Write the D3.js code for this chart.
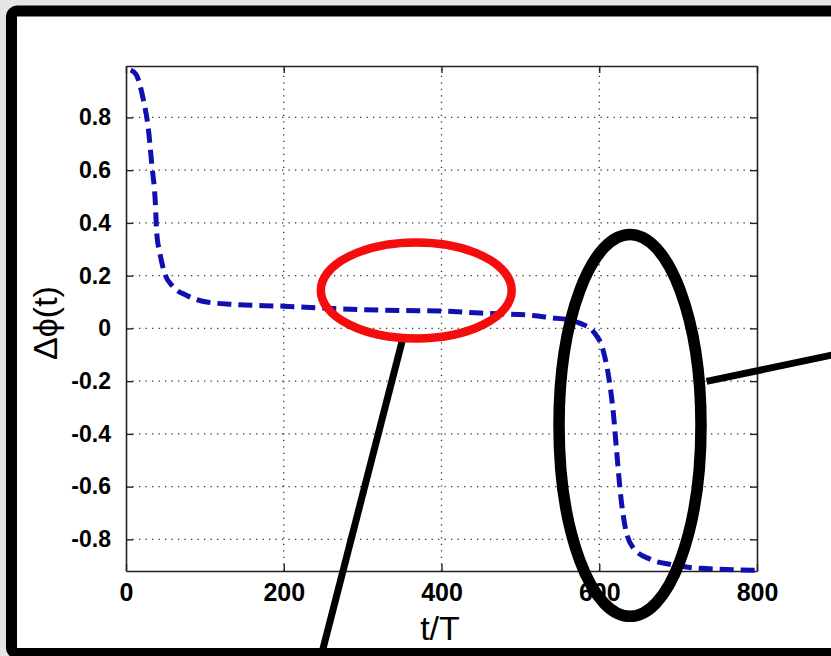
<!DOCTYPE html>
<html>
<head>
<meta charset="utf-8">
<script src="https://cdn.jsdelivr.net/npm/d3@7"></script>
<style>
  html, body { margin: 0; padding: 0; background: #e5e5e5; }
  svg { display: block; }
</style>
</head>
<body>
<svg id="chart" width="831" height="656"></svg>
<script>
// values
const tVals   = [6, 13, 22, 28, 33, 37, 39, 43, 49, 60, 77, 102, 136, 200, 263, 347, 398, 449, 516, 540, 560, 576, 593, 605, 612, 618, 622, 627, 633, 643, 665, 690, 728, 800]
const phiVals = [0.98, 0.962, 0.867, 0.765, 0.613, 0.487, 0.361, 0.285, 0.209, 0.157, 0.125, 0.1, 0.091, 0.084, 0.075, 0.068, 0.066, 0.058, 0.049, 0.04, 0.033, 0.019, -0.014, -0.084, -0.185, -0.325, -0.464, -0.629, -0.755, -0.832, -0.876, -0.895, -0.91, -0.917]
const xTicks = [0, 200, 400, 600, 800]
const yTicks = [-0.8, -0.6, -0.4, -0.2, 0, 0.2, 0.4, 0.6, 0.8]
const yLabels = ["-0.8", "-0.6", "-0.4", "-0.2", "0", "0.2", "0.4", "0.6", "0.8"]

// annotation marks, in data units
const ellipses = [
  {cx: 368, cy: 0.144, rx: 121, ry: 0.182, color: "#f50d0d", w: 8.5},
  {cx: 639, cy: -0.368, rx: 90, ry: 0.724, color: "#000", w: 11.5}
]
const pointers = [
  {t1: 351, p1: -0.038, t2: 245, p2: -1.27},
  {t1: 736, p1: -0.201, t2: 905, p2: -0.095}
]

const svg = d3.select("#chart")

// white card with thick black frame
svg.append("rect")
  .attr("x", 11.5).attr("y", 11)
  .attr("width", 900).attr("height", 642.5)
  .attr("rx", 6)
  .attr("fill", "#fff")
  .attr("stroke", "#000")
  .attr("stroke-width", 11)

const x = d3.scaleLinear().domain([0, 800]).range([126, 757])
const y = d3.scaleLinear().domain([-0.92, 0.995]).range([571, 66])

const font = "'Liberation Sans', Arial, Helvetica, sans-serif"

// dotted grid
const grid = svg.append("g")
grid.selectAll(".gx")
  .data(xTicks.filter(d => d > 0 && d < 800))
  .enter().append("line")
  .attr("x1", d => x(d)).attr("x2", d => x(d))
  .attr("y1", y.range()[0]).attr("y2", y.range()[1])
grid.selectAll(".gy")
  .data(yTicks)
  .enter().append("line")
  .attr("x1", x.range()[0]).attr("x2", x.range()[1])
  .attr("y1", d => y(d)).attr("y2", d => y(d))
grid.selectAll("line")
  .attr("stroke", "#333")
  .attr("stroke-width", 1.3)
  .attr("stroke-dasharray", "1.3,5.2")

// axes box with inward ticks on all sides
const axB = svg.append("g").attr("transform", `translate(0,${y.range()[0]})`)
  .call(d3.axisBottom(x).tickValues(xTicks).tickSizeInner(-7).tickSizeOuter(0).tickPadding(12).tickFormat(d3.format("d")))
const axT = svg.append("g").attr("transform", `translate(0,${y.range()[1]})`)
  .call(d3.axisTop(x).tickValues(xTicks).tickSizeInner(-7).tickSizeOuter(0).tickFormat(""))
const axL = svg.append("g").attr("transform", `translate(${x.range()[0]},0)`)
  .call(d3.axisLeft(y).tickValues(yTicks).tickSizeInner(-7).tickSizeOuter(0).tickPadding(15)
    .tickFormat((d, i) => yLabels[i]))
const axR = svg.append("g").attr("transform", `translate(${x.range()[1]},0)`)
  .call(d3.axisRight(y).tickValues(yTicks).tickSizeInner(-7).tickSizeOuter(0).tickFormat(""))

;[axB, axT, axL, axR].forEach(a => {
  a.select(".domain").attr("stroke", "#222").attr("stroke-width", 1.6)
  a.selectAll(".tick line").attr("stroke", "#222").attr("stroke-width", 1.4)
})
axB.selectAll("text")
  .attr("font-family", font).attr("font-weight", "bold").attr("font-size", 25).attr("fill", "#000")
axL.selectAll("text")
  .attr("font-family", font).attr("font-weight", "bold").attr("font-size", 23).attr("fill", "#000")

// axis titles
svg.append("text")
  .attr("x", 440).attr("y", 640)
  .attr("text-anchor", "middle")
  .attr("font-family", font).attr("font-size", 34)
  .text("t/T")
svg.append("text")
  .attr("transform", "translate(57,323) rotate(-90)")
  .attr("text-anchor", "middle")
  .attr("font-family", font).attr("font-size", 34)
  .text("Δϕ(t)")

// the curve
const pts = tVals.map((t, i) => [t, phiVals[i]])
svg.append("path")
  .datum(pts)
  .attr("d", d3.line().x(d => x(d[0])).y(d => y(d[1])).curve(d3.curveMonotoneX))
  .attr("fill", "none")
  .attr("stroke", "#1010b0")
  .attr("stroke-width", 5)
  .attr("stroke-dasharray", "14,7")

// annotations
const ann = svg.append("g")
ann.selectAll("line")
  .data(pointers)
  .enter().append("line")
  .attr("x1", d => x(d.t1)).attr("y1", d => y(d.p1))
  .attr("x2", d => x(d.t2)).attr("y2", d => y(d.p2))
  .attr("stroke", "#000")
  .attr("stroke-width", 7)
ann.selectAll("ellipse")
  .data(ellipses)
  .enter().append("ellipse")
  .attr("cx", d => x(d.cx)).attr("cy", d => y(d.cy))
  .attr("rx", d => x(d.rx) - x(0))
  .attr("ry", d => y(0) - y(d.ry))
  .attr("fill", "none")
  .attr("stroke", d => d.color)
  .attr("stroke-width", d => d.w)
</script>
</body>
</html>
